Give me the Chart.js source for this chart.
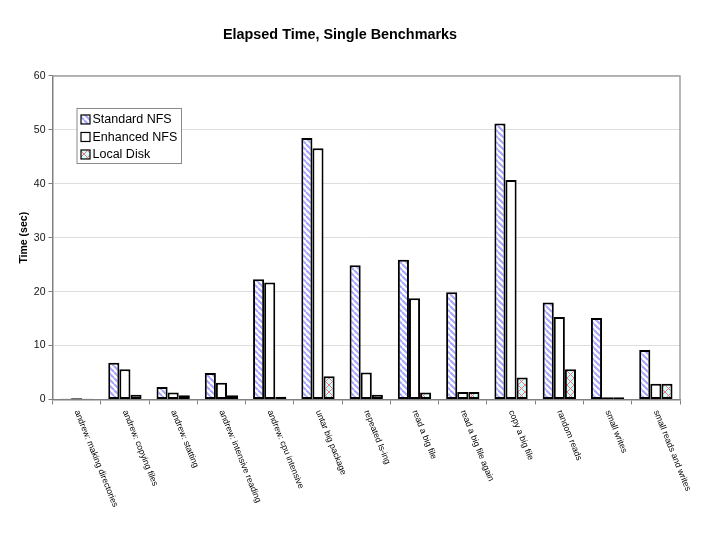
<!DOCTYPE html>
<html>
<head>
<meta charset="utf-8">
<script src="https://cdn.jsdelivr.net/npm/chart.js@4"></script>
<style>
  body { margin: 0; background: #fff; }
</style>
</head>
<body>
<canvas id="chart" width="724" height="533"></canvas>
<script>
const categories = [
  "andrew: making directories", "andrew: copying files", "andrew: statting",
  "andrew: intensive reading", "andrew: cpu intensive", "untar big package",
  "repeated ls-ing", "read a big file", "read a big file again", "copy a big file",
  "random reads", "small writes", "small reads and writes"
];
const seriesNames = ["Standard NFS", "Enhanced NFS", "Local Disk"];
const standardNFS = [0.15, 6.8, 2.3, 4.9, 22.3, 48.5, 24.9, 25.9, 19.9, 51.2, 18.0, 15.1, 9.2];
const enhancedNFS = [0.25, 5.6, 1.3, 3.1, 21.7, 46.6, 5.0, 18.8, 1.4, 40.7, 15.3, 0.4, 2.9];
const localDisk = [0.15, 0.9, 0.8, 0.8, 0.5, 4.3, 0.9, 1.3, 1.4, 4.1, 5.6, 0.4, 2.9];
const yTicks = [0, 10, 20, 30, 40, 50, 60];

const fontFamily = "'Liberation Sans', Arial, Helvetica, sans-serif";
const canvas = document.getElementById("chart");
const mainCtx = canvas.getContext("2d");

let makePattern = (size, bg, draw) => {
  const c = document.createElement("canvas");
  c.width = size;
  c.height = size;
  const g = c.getContext("2d");
  g.fillStyle = bg;
  g.fillRect(0, 0, size, size);
  draw(g, size);
  return mainCtx.createPattern(c, "repeat");
};

// blue diagonal stripes
const stripes = makePattern(6, "#ffffff", (g, s) => {
  g.strokeStyle = "#a4a4ff";
  g.lineWidth = 2;
  for (let k = -1; k <= 1; k++) {
    g.beginPath();
    g.moveTo(k * s, 0);
    g.lineTo(k * s + s, s);
    g.stroke();
  }
});
// red crosshatch on cyan
const hatch = makePattern(7, "#ccffff", (g, s) => {
  g.strokeStyle = "#ff6f6f";
  g.lineWidth = 1;
  g.beginPath();
  g.moveTo(0, 0); g.lineTo(s, s);
  g.moveTo(s, 0); g.lineTo(0, s);
  g.stroke();
});
const fills = [stripes, "#ffffff", hatch];

const framePlugin = {
  id: "frame",
  beforeDatasetsDraw(chart) {
    const { ctx, chartArea: a } = chart;
    ctx.save();
    ctx.strokeStyle = "#a0a0a0";
    ctx.lineWidth = 1.5;
    ctx.beginPath();
    ctx.moveTo(a.left, a.top);
    ctx.lineTo(a.right, a.top);
    ctx.lineTo(a.right, a.bottom);
    ctx.stroke();
    ctx.restore();
  },
};

const xLabelPlugin = {
  id: "xLabels",
  afterDraw(chart) {
    const { ctx, chartArea: a } = chart;
    const xs = chart.scales.x;
    ctx.save();
    ctx.font = `8.7px ${fontFamily}`;
    ctx.fillStyle = "#000";
    ctx.textAlign = "left";
    ctx.textBaseline = "middle";
    categories.forEach((lab, i) => {
      ctx.save();
      ctx.translate(xs.getPixelForValue(i), a.bottom + 11);
      ctx.rotate((68 * Math.PI) / 180);
      ctx.fillText(lab, 0, 0);
      ctx.restore();
    });
    ctx.restore();
  },
};

const legendPlugin = {
  id: "boxLegend",
  afterDraw(chart) {
    const { ctx, chartArea: a } = chart;
    const lx = a.left + 24.5, ly = a.top + 32.5;
    ctx.save();
    ctx.fillStyle = "#fff";
    ctx.fillRect(lx, ly, 104.5, 55);
    ctx.strokeStyle = "#8a8a8a";
    ctx.lineWidth = 1;
    ctx.strokeRect(lx, ly, 104.5, 55);
    ctx.font = `12.5px ${fontFamily}`;
    ctx.textBaseline = "middle";
    seriesNames.forEach((name, i) => {
      const cy = ly + 11 + i * 17.5;
      ctx.fillStyle = fills[i];
      ctx.fillRect(lx + 4, cy - 4.5, 9, 9);
      ctx.strokeStyle = "#000";
      ctx.lineWidth = 1.2;
      ctx.strokeRect(lx + 4, cy - 4.5, 9, 9);
      ctx.fillStyle = "#000";
      ctx.fillText(name, lx + 15.5, cy + 0.5);
    });
    ctx.restore();
  },
};

const series = [standardNFS, enhancedNFS, localDisk];

let myChart = new Chart(canvas, {
  type: "bar",
  data: {
    labels: categories,
    datasets: series.map((vals, i) => ({
      label: seriesNames[i],
      data: vals,
      backgroundColor: fills[i],
      borderColor: "#000",
      borderWidth: 2,
      borderSkipped: false,
      barPercentage: 1,
      categoryPercentage: 0.69,
    })),
  },
  options: {
    responsive: false,
    animation: false,
    layout: { padding: { left: 0, right: 44, top: 0, bottom: 0 } },
    plugins: {
      legend: { display: false },
      tooltip: { enabled: false },
      title: {
        display: true,
        text: "Elapsed Time, Single Benchmarks",
        color: "#000",
        font: { family: fontFamily, size: 14.4, weight: "bold", lineHeight: 1.2 },
        padding: { top: 26.4, bottom: 32.3 },
      },
    },
    scales: {
      x: {
        offset: true,
        grid: { offset: true, drawOnChartArea: false, drawTicks: true, tickLength: 5, tickColor: "#808080", tickWidth: 1 },
        border: { color: "#808080", width: 1.5 },
        ticks: { display: false },
        afterFit: (s) => { s.height = 133.5; },
      },
      y: {
        min: 0,
        max: 60,
        afterBuildTicks: (s) => { s.ticks = yTicks.map((v) => ({ value: v })); },
        ticks: { color: "#111", font: { family: fontFamily, size: 10.5 }, padding: 3 },
        grid: { color: "#dedede", tickLength: 4, tickColor: "#808080" },
        border: { color: "#808080", width: 1.5 },
        title: {
          display: true,
          text: "Time (sec)",
          color: "#000",
          font: { family: fontFamily, size: 10.5, weight: "bold" },
          padding: { top: 18, bottom: 0 },
        },
        afterFit: (s) => { s.width = 52.5; },
      },
    },
  },
  plugins: [framePlugin, xLabelPlugin, legendPlugin],
});
</script>
</body>
</html>
